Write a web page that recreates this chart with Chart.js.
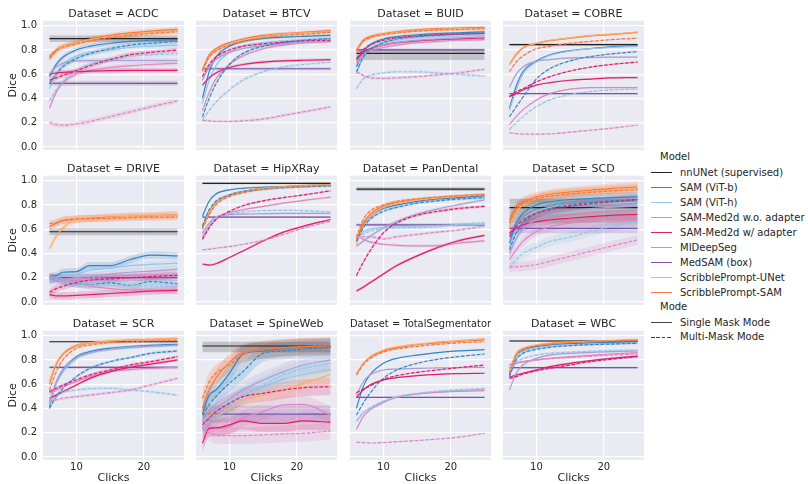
<!DOCTYPE html>
<html>
<head>
<meta charset="utf-8">
<script src="https://cdn.jsdelivr.net/npm/chart.js@4.4.1/dist/chart.umd.min.js"></script>
<style>
    body { margin: 0; width: 808px; height: 484px; overflow: hidden; position: relative; background: #fff;
           font-family: 'DejaVu Sans', sans-serif; color: #262626; }
    canvas { position: absolute; }
    .lg { position: absolute; font-size: 10px; line-height: 12px; white-space: nowrap; }
    .sw { position: absolute; width: 21px; height: 1.5px; }
</style>
</head>
<body>
<div id="legend"></div>
<script>
// data
const CLICKS = [6, 7, 8, 10, 12, 15, 18, 21, 25];
const DATASETS = ['ACDC', 'BTCV', 'BUID', 'COBRE', 'DRIVE', 'HipXRay', 'PanDental', 'SCD', 'SCR', 'SpineWeb', 'TotalSegmentator', 'WBC'];
const MODELS = ['nnUNet (supervised)', 'SAM (ViT-b)', 'SAM (ViT-h)', 'SAM-Med2d w.o. adapter', 'SAM-Med2d w/ adapter',
                'MIDeepSeg', 'MedSAM (box)', 'ScribblePrompt-UNet', 'ScribblePrompt-SAM'];
const MODES = ['Single Mask Mode', 'Multi-Mask Mode'];
const COLORS = ['#222222', '#3585c5', '#93c6e8', '#de87c2', '#e31c6e', '#a99ed4', '#7a52ab', '#fdae61', '#f8763f'];
// model index of each row in the *_SINGLE / *_MULTI arrays
const SINGLE_MODELS = [1, 2, 3, 4, 5, 8, 7];
const MULTI_MODELS = [1, 2, 3, 4, 8];
const Y_TICKS = [0, 0.2, 0.4, 0.6, 0.8, 1.0];
const X_TICKS = [10, 20];

const NNUNET = [0.893, null, 0.772, 0.843, 0.579, 0.978, 0.93, 0.777, 0.95, 0.915, null, 0.956];
const NNUNET_CI = [[0.865, 0.92], null, [0.717, 0.805], [0.835, 0.852], [0.55, 0.605], [0.97, 0.985],
                   [0.915, 0.945], [0.65, 0.85], [0.945, 0.957], [0.863, 0.95], null, [0.95, 0.962]];
const MEDSAM = [0.525, 0.645, 0.80, 0.44, 0.20, 0.70, 0.636, 0.607, 0.739, 0.354, 0.492, 0.736];
const BAND = [0.02, 0.012, 0.012, 0.006, 0.03, 0.008, 0.012, 0.04, 0.012, 0.07, 0.004, 0.008];

// rows: ViT-b, ViT-h, Med2d w.o., Med2d w/, MIDeepSeg, SP-SAM, SP-UNet
const ACDC_SINGLE = [
    [0.58, 0.68, 0.74, 0.80, 0.83, 0.855, 0.87, 0.88, 0.885],
    [0.48, 0.60, 0.68, 0.75, 0.78, 0.80, 0.82, 0.83, 0.84],
    [0.32, 0.45, 0.53, 0.60, 0.63, 0.655, 0.67, 0.68, 0.69],
    [0.60, 0.61, 0.615, 0.62, 0.625, 0.63, 0.632, 0.632, 0.632],
    [0.60, 0.66, 0.69, 0.71, 0.712, 0.713, 0.713, 0.713, 0.713],
    [0.745, 0.80, 0.83, 0.86, 0.89, 0.92, 0.94, 0.955, 0.97],
    [0.72, 0.79, 0.83, 0.86, 0.885, 0.91, 0.93, 0.945, 0.96]
];
// rows: ViT-b, ViT-h, Med2d w.o., Med2d w/, SP-SAM
const ACDC_MULTI = [
    [0.52, 0.60, 0.66, 0.73, 0.77, 0.81, 0.84, 0.855, 0.87],
    [0.38, 0.47, 0.54, 0.63, 0.68, 0.72, 0.75, 0.76, 0.77],
    [0.20, 0.185, 0.18, 0.19, 0.21, 0.25, 0.29, 0.33, 0.38],
    [0.55, 0.57, 0.59, 0.63, 0.67, 0.72, 0.76, 0.78, 0.80],
    [0.73, 0.79, 0.82, 0.85, 0.875, 0.90, 0.92, 0.935, 0.95]
];
const BTCV_SINGLE = [
    [0.40, 0.62, 0.74, 0.83, 0.87, 0.895, 0.905, 0.912, 0.92],
    [0.36, 0.55, 0.67, 0.78, 0.83, 0.86, 0.875, 0.885, 0.89],
    [0.30, 0.45, 0.56, 0.68, 0.75, 0.81, 0.84, 0.86, 0.87],
    [0.51, 0.57, 0.61, 0.655, 0.68, 0.70, 0.71, 0.715, 0.72],
    [0.55, 0.66, 0.72, 0.78, 0.81, 0.835, 0.85, 0.86, 0.87],
    [0.64, 0.76, 0.81, 0.86, 0.89, 0.92, 0.935, 0.945, 0.96],
    [0.62, 0.74, 0.79, 0.85, 0.88, 0.91, 0.93, 0.94, 0.95]
];
const BTCV_MULTI = [
    [0.25, 0.40, 0.52, 0.68, 0.77, 0.83, 0.86, 0.88, 0.895],
    [0.23, 0.30, 0.37, 0.47, 0.55, 0.62, 0.66, 0.68, 0.70],
    [0.22, 0.215, 0.21, 0.21, 0.215, 0.23, 0.26, 0.29, 0.33],
    [0.58, 0.68, 0.74, 0.80, 0.83, 0.85, 0.865, 0.875, 0.88],
    [0.63, 0.74, 0.79, 0.84, 0.87, 0.90, 0.92, 0.93, 0.945]
];
const BUID_SINGLE = [
    [0.66, 0.78, 0.84, 0.89, 0.91, 0.925, 0.935, 0.94, 0.95],
    [0.60, 0.74, 0.81, 0.86, 0.88, 0.90, 0.91, 0.915, 0.92],
    [0.70, 0.76, 0.79, 0.82, 0.84, 0.86, 0.87, 0.88, 0.885],
    [0.72, 0.78, 0.81, 0.84, 0.86, 0.875, 0.885, 0.89, 0.90],
    [0.68, 0.76, 0.80, 0.84, 0.86, 0.88, 0.89, 0.90, 0.905],
    [0.80, 0.88, 0.91, 0.935, 0.95, 0.965, 0.975, 0.98, 0.986],
    [0.79, 0.87, 0.90, 0.93, 0.945, 0.96, 0.97, 0.975, 0.98]
];
const BUID_MULTI = [
    [0.62, 0.74, 0.80, 0.86, 0.89, 0.91, 0.92, 0.93, 0.937],
    [0.48, 0.56, 0.59, 0.61, 0.62, 0.62, 0.61, 0.60, 0.585],
    [0.62, 0.59, 0.57, 0.565, 0.57, 0.58, 0.595, 0.61, 0.64],
    [0.73, 0.80, 0.84, 0.88, 0.90, 0.915, 0.925, 0.93, 0.937],
    [0.79, 0.87, 0.90, 0.925, 0.94, 0.955, 0.963, 0.968, 0.975]
];
const COBRE_SINGLE = [
    [0.32, 0.50, 0.62, 0.71, 0.76, 0.795, 0.81, 0.826, 0.835],
    [0.30, 0.47, 0.60, 0.70, 0.755, 0.79, 0.81, 0.82, 0.83],
    [0.185, 0.25, 0.306, 0.388, 0.44, 0.477, 0.49, 0.49, 0.49],
    [0.415, 0.44, 0.47, 0.51, 0.53, 0.55, 0.56, 0.57, 0.572],
    [0.49, 0.60, 0.66, 0.707, 0.72, 0.734, 0.737, 0.74, 0.74],
    [0.68, 0.76, 0.815, 0.852, 0.876, 0.897, 0.916, 0.926, 0.944],
    [0.686, 0.767, 0.82, 0.856, 0.88, 0.90, 0.92, 0.93, 0.948]
];
const COBRE_MULTI = [
    [0.25, 0.33, 0.41, 0.56, 0.645, 0.71, 0.745, 0.767, 0.786],
    [0.144, 0.20, 0.25, 0.333, 0.388, 0.433, 0.458, 0.47, 0.477],
    [0.117, 0.11, 0.106, 0.106, 0.108, 0.122, 0.138, 0.154, 0.18],
    [0.415, 0.455, 0.48, 0.537, 0.58, 0.626, 0.658, 0.68, 0.70],
    [0.62, 0.70, 0.75, 0.81, 0.83, 0.855, 0.87, 0.885, 0.897]
];
const DRIVE_SINGLE = [
    [0.21, 0.217, 0.245, 0.25, 0.30, 0.30, 0.35, 0.386, 0.38],
    [0.20, 0.205, 0.21, 0.23, 0.26, 0.28, 0.30, 0.31, 0.32],
    [0.21, 0.20, 0.18, 0.15, 0.13, 0.11, 0.10, 0.10, 0.10],
    [0.06, 0.05, 0.05, 0.055, 0.06, 0.07, 0.08, 0.09, 0.095],
    [0.16, 0.17, 0.18, 0.20, 0.21, 0.23, 0.245, 0.255, 0.27],
    [0.62, 0.65, 0.67, 0.68, 0.69, 0.70, 0.705, 0.71, 0.72],
    [0.44, 0.54, 0.61, 0.68, 0.685, 0.698, 0.706, 0.71, 0.72]
];
const DRIVE_MULTI = [
    [0.204, 0.19, 0.168, 0.15, 0.144, 0.158, 0.136, 0.168, 0.15],
    [0.20, 0.19, 0.17, 0.15, 0.14, 0.14, 0.14, 0.13, 0.13],
    [0.20, 0.20, 0.19, 0.19, 0.20, 0.21, 0.22, 0.225, 0.23],
    [0.08, 0.11, 0.13, 0.16, 0.18, 0.19, 0.20, 0.21, 0.22],
    [0.647, 0.652, 0.674, 0.685, 0.687, 0.69, 0.695, 0.70, 0.70]
];
const HIPXRAY_SINGLE = [
    [0.706, 0.83, 0.89, 0.924, 0.937, 0.946, 0.95, 0.957, 0.962],
    [0.62, 0.75, 0.82, 0.875, 0.905, 0.925, 0.94, 0.948, 0.955],
    [0.53, 0.625, 0.68, 0.734, 0.76, 0.788, 0.815, 0.837, 0.864],
    [0.313, 0.304, 0.315, 0.367, 0.42, 0.503, 0.576, 0.625, 0.68],
    [0.57, 0.65, 0.70, 0.72, 0.725, 0.728, 0.73, 0.73, 0.73],
    [0.61, 0.73, 0.815, 0.88, 0.91, 0.937, 0.95, 0.96, 0.965],
    [0.62, 0.74, 0.82, 0.885, 0.91, 0.937, 0.95, 0.96, 0.965]
];
const HIPXRAY_MULTI = [
    [0.625, 0.76, 0.83, 0.883, 0.91, 0.93, 0.943, 0.95, 0.957],
    [0.557, 0.64, 0.693, 0.728, 0.742, 0.753, 0.755, 0.753, 0.742],
    [0.43, 0.435, 0.443, 0.457, 0.475, 0.508, 0.557, 0.61, 0.666],
    [0.516, 0.61, 0.68, 0.747, 0.793, 0.834, 0.86, 0.883, 0.916],
    [0.60, 0.72, 0.80, 0.87, 0.90, 0.93, 0.945, 0.955, 0.96]
];
const PANDENTAL_SINGLE = [
    [0.50, 0.63, 0.70, 0.77, 0.80, 0.83, 0.85, 0.86, 0.875],
    [0.52, 0.58, 0.60, 0.615, 0.62, 0.625, 0.63, 0.635, 0.64],
    [0.557, 0.516, 0.495, 0.476, 0.467, 0.462, 0.465, 0.484, 0.503],
    [0.09, 0.122, 0.158, 0.23, 0.30, 0.38, 0.448, 0.503, 0.549],
    [0.46, 0.50, 0.54, 0.61, 0.666, 0.725, 0.766, 0.80, 0.842],
    [0.50, 0.65, 0.72, 0.79, 0.82, 0.845, 0.86, 0.872, 0.886],
    [0.47, 0.62, 0.70, 0.78, 0.81, 0.84, 0.857, 0.87, 0.885]
];
const PANDENTAL_MULTI = [
    [0.50, 0.61, 0.68, 0.747, 0.78, 0.815, 0.834, 0.848, 0.86],
    [0.53, 0.56, 0.584, 0.606, 0.61, 0.613, 0.62, 0.64, 0.652],
    [0.538, 0.538, 0.538, 0.52, 0.538, 0.557, 0.576, 0.592, 0.625],
    [0.217, 0.326, 0.42, 0.57, 0.652, 0.715, 0.747, 0.77, 0.788],
    [0.53, 0.68, 0.747, 0.80, 0.83, 0.85, 0.864, 0.875, 0.886]
];
const SCD_SINGLE = [
    [0.485, 0.65, 0.73, 0.80, 0.826, 0.845, 0.853, 0.861, 0.866],
    [0.45, 0.60, 0.68, 0.75, 0.78, 0.80, 0.81, 0.815, 0.82],
    [0.35, 0.43, 0.50, 0.58, 0.62, 0.65, 0.66, 0.67, 0.676],
    [0.567, 0.607, 0.635, 0.662, 0.676, 0.69, 0.703, 0.714, 0.722],
    [0.40, 0.52, 0.60, 0.68, 0.72, 0.75, 0.77, 0.78, 0.79],
    [0.676, 0.785, 0.826, 0.866, 0.888, 0.907, 0.921, 0.935, 0.948],
    [0.62, 0.74, 0.80, 0.85, 0.875, 0.895, 0.91, 0.92, 0.935]
];
const SCD_MULTI = [
    [0.43, 0.567, 0.65, 0.73, 0.77, 0.80, 0.82, 0.834, 0.845],
    [0.28, 0.35, 0.40, 0.45, 0.50, 0.534, 0.58, 0.62, 0.662],
    [0.29, 0.29, 0.294, 0.308, 0.335, 0.376, 0.417, 0.458, 0.512],
    [0.54, 0.62, 0.676, 0.73, 0.76, 0.79, 0.81, 0.825, 0.845],
    [0.65, 0.76, 0.81, 0.85, 0.872, 0.89, 0.903, 0.915, 0.926]
];
const SCR_SINGLE = [
    [0.415, 0.607, 0.717, 0.827, 0.868, 0.896, 0.909, 0.92, 0.929],
    [0.43, 0.60, 0.70, 0.81, 0.855, 0.885, 0.90, 0.91, 0.92],
    [0.525, 0.55, 0.58, 0.62, 0.662, 0.703, 0.72, 0.73, 0.739],
    [0.484, 0.51, 0.538, 0.593, 0.648, 0.703, 0.739, 0.766, 0.80],
    [0.45, 0.62, 0.72, 0.82, 0.86, 0.89, 0.905, 0.915, 0.922],
    [0.60, 0.76, 0.845, 0.918, 0.94, 0.955, 0.963, 0.968, 0.975],
    [0.626, 0.772, 0.854, 0.923, 0.942, 0.956, 0.964, 0.97, 0.978]
];
const SCR_MULTI = [
    [0.40, 0.497, 0.566, 0.662, 0.73, 0.786, 0.819, 0.854, 0.874],
    [0.44, 0.497, 0.53, 0.552, 0.563, 0.566, 0.552, 0.538, 0.51],
    [0.456, 0.47, 0.484, 0.497, 0.51, 0.53, 0.552, 0.593, 0.648],
    [0.538, 0.566, 0.593, 0.635, 0.676, 0.717, 0.758, 0.786, 0.827],
    [0.55, 0.70, 0.80, 0.896, 0.923, 0.942, 0.95, 0.956, 0.959]
];
const SPINEWEB_SINGLE = [
    [0.36, 0.51, 0.552, 0.69, 0.846, 0.874, 0.896, 0.904, 0.909],
    [0.30, 0.34, 0.38, 0.45, 0.51, 0.58, 0.64, 0.68, 0.72],
    [0.277, 0.25, 0.236, 0.25, 0.32, 0.374, 0.43, 0.434, 0.346],
    [0.113, 0.236, 0.24, 0.264, 0.297, 0.277, 0.277, 0.297, 0.286],
    [0.236, 0.33, 0.40, 0.478, 0.552, 0.635, 0.703, 0.758, 0.80],
    [0.40, 0.55, 0.65, 0.78, 0.86, 0.89, 0.90, 0.91, 0.915],
    [0.374, 0.346, 0.346, 0.40, 0.47, 0.51, 0.552, 0.607, 0.68]
];
const SPINEWEB_MULTI = [
    [0.346, 0.43, 0.497, 0.607, 0.703, 0.854, 0.874, 0.89, 0.904],
    [0.264, 0.29, 0.32, 0.415, 0.51, 0.593, 0.676, 0.73, 0.772],
    [0.236, 0.203, 0.181, 0.176, 0.176, 0.181, 0.19, 0.195, 0.214],
    [0.264, 0.32, 0.374, 0.442, 0.497, 0.525, 0.552, 0.571, 0.58],
    [0.483, 0.62, 0.69, 0.758, 0.846, 0.882, 0.90, 0.91, 0.918]
];
const TOTALSEG_SINGLE = [
    [0.40, 0.58, 0.676, 0.772, 0.813, 0.84, 0.86, 0.874, 0.885],
    [0.291, 0.36, 0.40, 0.456, 0.492, 0.519, 0.536, 0.547, 0.558],
    [0.228, 0.332, 0.387, 0.448, 0.492, 0.519, 0.533, 0.541, 0.547],
    [0.492, 0.552, 0.593, 0.635, 0.654, 0.67, 0.681, 0.687, 0.69],
    [0.51, 0.62, 0.676, 0.717, 0.725, 0.731, 0.734, 0.736, 0.739],
    [0.68, 0.77, 0.82, 0.875, 0.90, 0.925, 0.94, 0.952, 0.965],
    [0.684, 0.772, 0.827, 0.882, 0.909, 0.931, 0.948, 0.959, 0.975]
];
const TOTALSEG_MULTI = [
    [0.346, 0.442, 0.525, 0.648, 0.717, 0.772, 0.805, 0.827, 0.849],
    [0.30, 0.365, 0.405, 0.46, 0.497, 0.525, 0.543, 0.555, 0.566],
    [0.121, 0.119, 0.115, 0.119, 0.126, 0.135, 0.148, 0.162, 0.195],
    [0.53, 0.558, 0.585, 0.64, 0.67, 0.698, 0.717, 0.736, 0.758],
    [0.675, 0.76, 0.81, 0.865, 0.89, 0.912, 0.928, 0.94, 0.95]
];
const WBC_SINGLE = [
    [0.676, 0.827, 0.88, 0.909, 0.923, 0.934, 0.94, 0.945, 0.948],
    [0.70, 0.83, 0.87, 0.90, 0.915, 0.925, 0.93, 0.935, 0.94],
    [0.758, 0.772, 0.786, 0.80, 0.813, 0.827, 0.838, 0.849, 0.86],
    [0.657, 0.676, 0.69, 0.717, 0.745, 0.772, 0.794, 0.813, 0.832],
    [0.552, 0.69, 0.758, 0.813, 0.84, 0.854, 0.863, 0.868, 0.874],
    [0.70, 0.85, 0.89, 0.92, 0.935, 0.946, 0.954, 0.958, 0.966],
    [0.703, 0.854, 0.896, 0.923, 0.937, 0.948, 0.956, 0.96, 0.97]
];
const WBC_MULTI = [
    [0.662, 0.80, 0.854, 0.887, 0.904, 0.918, 0.926, 0.931, 0.937],
    [0.70, 0.78, 0.81, 0.84, 0.855, 0.865, 0.872, 0.877, 0.882],
    [0.76, 0.775, 0.785, 0.80, 0.81, 0.82, 0.83, 0.84, 0.85],
    [0.648, 0.662, 0.684, 0.711, 0.731, 0.758, 0.786, 0.805, 0.827],
    [0.69, 0.84, 0.885, 0.915, 0.93, 0.942, 0.95, 0.955, 0.962]
];

const SINGLE = [ACDC_SINGLE, BTCV_SINGLE, BUID_SINGLE, COBRE_SINGLE, DRIVE_SINGLE, HIPXRAY_SINGLE,
                PANDENTAL_SINGLE, SCD_SINGLE, SCR_SINGLE, SPINEWEB_SINGLE, TOTALSEG_SINGLE, WBC_SINGLE];
const MULTI = [ACDC_MULTI, BTCV_MULTI, BUID_MULTI, COBRE_MULTI, DRIVE_MULTI, HIPXRAY_MULTI,
               PANDENTAL_MULTI, SCD_MULTI, SCR_MULTI, SPINEWEB_MULTI, TOTALSEG_MULTI, WBC_MULTI];

// layout of the facet grid (plot areas)
const COL_LEFT = [43, 196, 350, 503];
const ROW_TOP = [0, 155, 310];
const PLOT_W = 141;
const TEXT = '#262626';
const DASH = [3.7, 1.6];

Chart.defaults.font.family = "'DejaVu Sans', sans-serif";
Chart.defaults.color = TEXT;

function rgba(hex, a) {
    const n = parseInt(hex.slice(1), 16);
    return `rgba(${n >> 16}, ${(n >> 8) & 255}, ${n & 255}, ${a})`;
}

const bgPlugin = {
    id: 'bg',
    beforeDraw(chart) {
        const { ctx, chartArea: a } = chart;
        ctx.save();
        ctx.fillStyle = '#eaeaf2';
        ctx.fillRect(a.left, a.top, a.right - a.left, a.bottom - a.top);
        ctx.restore();
    }
};

function pushLine(sets, xs, ys, lo, hi, color, dashed) {
    if (lo) {
        sets.push({ data: xs.map((x, k) => ({ x, y: lo[k] })), borderWidth: 0, pointRadius: 0,
                    fill: false, order: 1000, cubicInterpolationMode: 'monotone', tension: 0.3 });
        sets.push({ data: xs.map((x, k) => ({ x, y: hi[k] })), borderWidth: 0, pointRadius: 0,
                    fill: '-1', backgroundColor: rgba(color, 0.2), order: 1000,
                    cubicInterpolationMode: 'monotone', tension: 0.3 });
    }
    sets.push({ data: xs.map((x, k) => ({ x, y: ys[k] })), borderColor: color, borderWidth: 1.2,
                borderDash: dashed ? DASH : [], pointRadius: 0, fill: false, order: -sets.length,
                cubicInterpolationMode: 'monotone', tension: 0.3 });
}

function buildDatasets(i) {
    const sets = [];
    const w = BAND[i];
    const ends = [CLICKS[0], CLICKS[CLICKS.length - 1]];
    if (NNUNET[i] !== null) {
        const ci = NNUNET_CI[i];
        pushLine(sets, ends, [NNUNET[i], NNUNET[i]], [ci[0], ci[0]], [ci[1], ci[1]], COLORS[0], false);
    }
    const m = MEDSAM[i];
    pushLine(sets, ends, [m, m], [m - w, m - w], [m + w, m + w], COLORS[6], false);
    SINGLE[i].forEach((ys, r) => {
        pushLine(sets, CLICKS, ys, ys.map(v => v - w), ys.map(v => v + w), COLORS[SINGLE_MODELS[r]], false);
    });
    MULTI[i].forEach((ys, r) => {
        pushLine(sets, CLICKS, ys, ys.map(v => v - w), ys.map(v => v + w), COLORS[MULTI_MODELS[r]], true);
    });
    return sets;
}

DATASETS.forEach((name, i) => {
    const row = Math.floor(i / 4), col = i % 4;
    const first = col === 0, bottom = row === 2;
    const left = first ? 0 : COL_LEFT[col] - 2;
    const padL = first ? 0 : 2;
    const yW = first ? COL_LEFT[0] : 0;
    const w = padL + yW + PLOT_W + 3;
    const h = bottom ? 174 : 152;

    const canvas = document.createElement('canvas');
    canvas.width = w;
    canvas.height = h;
    canvas.style.left = left + 'px';
    canvas.style.top = ROW_TOP[row] + 'px';
    document.body.appendChild(canvas);

    new Chart(canvas, {
        type: 'line',
        data: { datasets: buildDatasets(i) },
        plugins: [bgPlugin],
        options: {
            responsive: false,
            animation: false,
            events: [],
            layout: { padding: { top: 7.5, left: padL, right: 3, bottom: bottom ? 0 : 2 } },
            plugins: {
                legend: { display: false },
                tooltip: { enabled: false },
                title: {
                    display: true,
                    text: 'Dataset = ' + name,
                    fullSize: false,
                    color: TEXT,
                    font: { size: 11, weight: 'normal', lineHeight: 1.2 },
                    padding: 0
                }
            },
            scales: {
                x: {
                    type: 'linear',
                    min: 5.05,
                    max: 25.95,
                    afterBuildTicks: s => { s.ticks = X_TICKS.map(v => ({ value: v })); },
                    afterFit: s => { s.height = bottom ? 24 : 0; s.paddingLeft = 0; s.paddingRight = 0; },
                    grid: { color: '#ffffff', lineWidth: 1.2, drawTicks: false },
                    border: { display: false },
                    ticks: { display: bottom, padding: 1.5, maxRotation: 0, font: { size: 10 }, color: TEXT,
                             callback: v => String(v) },
                    title: { display: bottom, text: 'Clicks', color: TEXT,
                             font: { size: 11, lineHeight: 1 }, padding: 0 }
                },
                y: {
                    type: 'linear',
                    min: -0.025,
                    max: 1.041,
                    afterBuildTicks: s => { s.ticks = Y_TICKS.map(v => ({ value: v })); },
                    afterFit: s => { s.width = yW; s.paddingTop = 0; s.paddingBottom = 0; },
                    grid: { color: '#ffffff', lineWidth: 1.2, drawTicks: false },
                    border: { display: false },
                    ticks: { display: first, padding: 6, font: { size: 10 }, color: TEXT,
                             callback: v => v.toFixed(1) },
                    title: { display: first, text: 'Dice', color: TEXT,
                             font: { size: 11, lineHeight: 1.2 }, padding: { top: 6.7, bottom: 0 } }
                }
            }
        }
    });
});

// legend on the right
function legendText(txt, x, y) {
    const d = document.createElement('div');
    d.className = 'lg';
    d.textContent = txt;
    d.style.left = x + 'px';
    d.style.top = (y - 6) + 'px';
    document.body.appendChild(d);
}
function legendSwatch(color, y, dashed) {
    const d = document.createElement('div');
    d.className = 'sw';
    d.style.left = '651px';
    d.style.top = (y - 0.75) + 'px';
    d.style.background = dashed
        ? `repeating-linear-gradient(90deg, ${color} 0 3.7px, transparent 3.7px 5.3px)`
        : color;
    document.body.appendChild(d);
}

legendText('Model', 660, 156.7);
MODELS.forEach((m, k) => {
    const y = 172.7 + 15 * k;
    legendSwatch(COLORS[k], y, false);
    legendText(m, 680, y);
});
legendText('Mode', 660, 306.7);
MODES.forEach((m, k) => {
    const y = 322.7 + 14.6 * k;
    legendSwatch('#444444', y, k === 1);
    legendText(m, 680, y);
});
</script>
</body>
</html>
